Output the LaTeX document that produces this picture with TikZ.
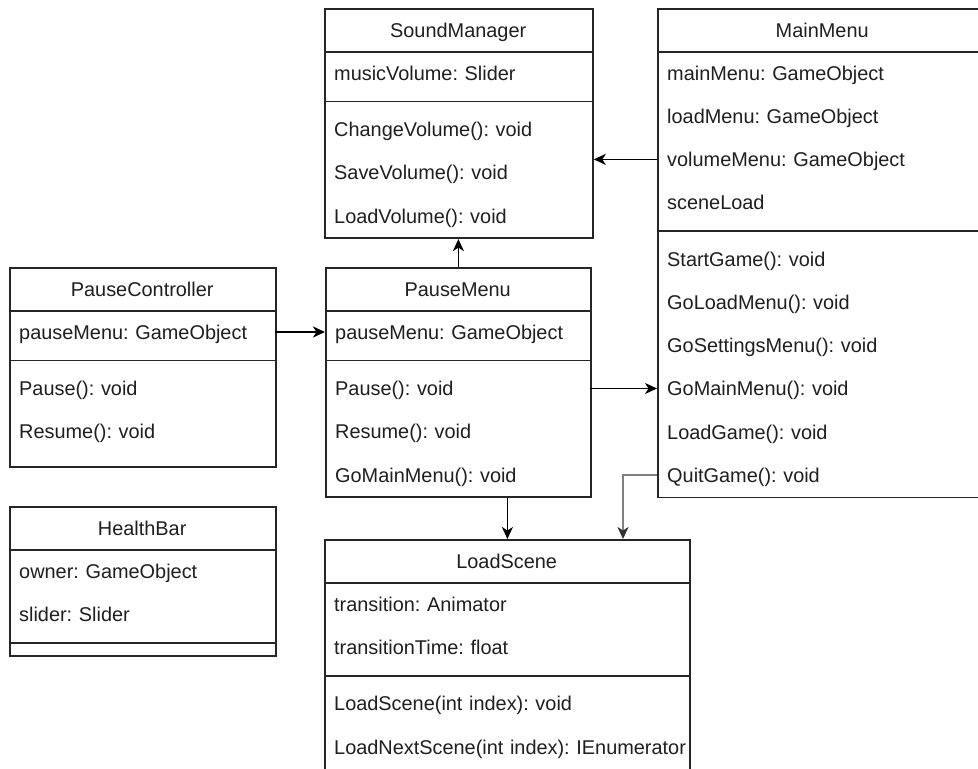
\documentclass[tikz,border=0pt]{standalone}
\usepackage{fontspec}
\setmainfont{Liberation Sans}
\newfontfamily\umlfont{Liberation Sans}
\usetikzlibrary{arrows.meta,calc}
\newcommand\umltext{\umlfont\fontsize{19.9}{24}\selectfont\frenchspacing
  \hyphenpenalty=10000\exhyphenpenalty=10000}
\begin{document}
\begin{tikzpicture}[x=1pt,y=-1pt,
  classbox/.style={draw=black!85, line width=1.8pt, fill=white, anchor=north west,
    inner sep=0pt, minimum width=#1},
  hd/.style={anchor=north west, minimum height=43.2pt, inner xsep=0pt, inner ysep=0pt,
    text width=#1, align=center, text height=14.4pt, text depth=0pt,
    font=\umltext, text=black!88},
  row/.style={anchor=north west, minimum height=43.2pt, inner xsep=0pt, inner ysep=0pt,
    text width=#1, align=left, text height=14.4pt, text depth=0pt,
    font=\umltext, text=black!88, execute at begin node={\hspace*{10pt}}},
  rule/.style={draw=black!85, line width=1.8pt},
  conn/.style={draw=black, line width=1.8pt,
    -{Stealth[length=12pt, width=11pt, inset=3.5pt]}},
  conngray/.style={draw=black!50, line width=1.8pt,
    -{Stealth[length=12pt, width=11pt, inset=3.5pt, color=black!80]}}
]
\useasboundingbox (0,0) rectangle (978,769);

% ---------- SoundManager ----------
\node[classbox=268pt, minimum height=229.3pt] (sm) at (324,8) {};
\node[hd=268pt] (sm-t) at (324,8) {SoundManager};
\node[row=268pt] (sm-a1) at (324,51.2) {musicVolume: Slider};
\node[row=268pt] (sm-m1) at (324,107.7) {ChangeVolume(): void};
\node[row=268pt] (sm-m2) at (324,150.9) {SaveVolume(): void};
\node[row=268pt] (sm-m3) at (324,194.1) {LoadVolume(): void};
\draw[rule] (sm-t.south west) -- (sm-t.south east);
\draw[rule] ($(sm-a1.south west)+(0,6.65)$) -- ($(sm-a1.south east)+(0,6.65)$);

% ---------- MainMenu ----------
\node[classbox=330pt, minimum height=488.5pt] (mm) at (657,8) {};
\node[hd=330pt] (mm-t) at (657,8) {MainMenu};
\node[row=330pt] (mm-a1) at (657,51.2) {mainMenu: GameObject};
\node[row=330pt] (mm-a2) at (657,94.4) {loadMenu: GameObject};
\node[row=330pt] (mm-a3) at (657,137.6) {volumeMenu: GameObject};
\node[row=330pt] (mm-a4) at (657,180.8) {sceneLoad};
\node[row=330pt] (mm-m1) at (657,237.3) {StartGame(): void};
\node[row=330pt] (mm-m2) at (657,280.5) {GoLoadMenu(): void};
\node[row=330pt] (mm-m3) at (657,323.7) {GoSettingsMenu(): void};
\node[row=330pt] (mm-m4) at (657,366.9) {GoMainMenu(): void};
\node[row=330pt] (mm-m5) at (657,410.1) {LoadGame(): void};
\node[row=330pt] (mm-m6) at (657,453.3) {QuitGame(): void};
\draw[rule] (mm-t.south west) -- (mm-t.south east);
\draw[rule] ($(mm-a4.south west)+(0,6.65)$) -- ($(mm-a4.south east)+(0,6.65)$);

% ---------- PauseController ----------
\node[classbox=266pt, minimum height=199.4pt] (pc) at (9,267) {};
\node[hd=266pt] (pc-t) at (9,267) {PauseController};
\node[row=266pt] (pc-a1) at (9,310.2) {pauseMenu: GameObject};
\node[row=266pt] (pc-m1) at (9,366.7) {Pause(): void};
\node[row=266pt] (pc-m2) at (9,409.9) {Resume(): void};
\draw[rule] (pc-t.south west) -- (pc-t.south east);
\draw[rule] ($(pc-a1.south west)+(0,6.65)$) -- ($(pc-a1.south east)+(0,6.65)$);

% ---------- PauseMenu ----------
\node[classbox=265pt, minimum height=229.3pt] (pm) at (325,267) {};
\node[hd=265pt] (pm-t) at (325,267) {PauseMenu};
\node[row=265pt] (pm-a1) at (325,310.2) {pauseMenu: GameObject};
\node[row=265pt] (pm-m1) at (325,366.7) {Pause(): void};
\node[row=265pt] (pm-m2) at (325,409.9) {Resume(): void};
\node[row=265pt] (pm-m3) at (325,453.1) {GoMainMenu(): void};
\draw[rule] (pm-t.south west) -- (pm-t.south east);
\draw[rule] ($(pm-a1.south west)+(0,6.65)$) -- ($(pm-a1.south east)+(0,6.65)$);

% ---------- HealthBar ----------
\node[classbox=266pt, minimum height=149pt] (hb) at (9,506) {};
\node[hd=266pt] (hb-t) at (9,506) {HealthBar};
\node[row=266pt] (hb-a1) at (9,549.2) {owner: GameObject};
\node[row=266pt] (hb-a2) at (9,592.4) {slider: Slider};
\draw[rule] (hb-t.south west) -- (hb-t.south east);
\draw[rule] ($(hb-a2.south west)+(0,6.65)$) -- ($(hb-a2.south east)+(0,6.65)$);

% ---------- LoadScene ----------
\node[classbox=365pt, minimum height=261pt] (ls) at (324,539) {};
\node[hd=365pt] (ls-t) at (324,539) {LoadScene};
\node[row=365pt] (ls-a1) at (324,582.2) {transition: Animator};
\node[row=365pt] (ls-a2) at (324,625.4) {transitionTime: float};
\node[row=365pt] (ls-m1) at (324,681.9) {LoadScene(int index): void};
\node[row=365pt] (ls-m2) at (324,725.1) {LoadNextScene(int index): IEnumerator};
\draw[rule] (ls-t.south west) -- (ls-t.south east);
\draw[rule] ($(ls-a2.south west)+(0,6.65)$) -- ($(ls-a2.south east)+(0,6.65)$);

% ---------- associations ----------
\coordinate (quitx) at (623,0);
\draw[conn] (mm-a3.west) -- (sm.east |- mm-a3.west);
\draw[conn] (pm.north) -- (pm.north |- sm.south);
\draw[conn] (pc-a1.east) -- (pm.west |- pc-a1.east);
\draw[conn] (pm-m1.east) -- (mm.west |- pm-m1.east);
\draw[conn] (pm.south -| ls.north) -- (ls.north);
\draw[conngray] (mm-m6.west) -- (mm-m6.west -| quitx) -- (quitx |- ls.north);
\end{tikzpicture}
\end{document}
